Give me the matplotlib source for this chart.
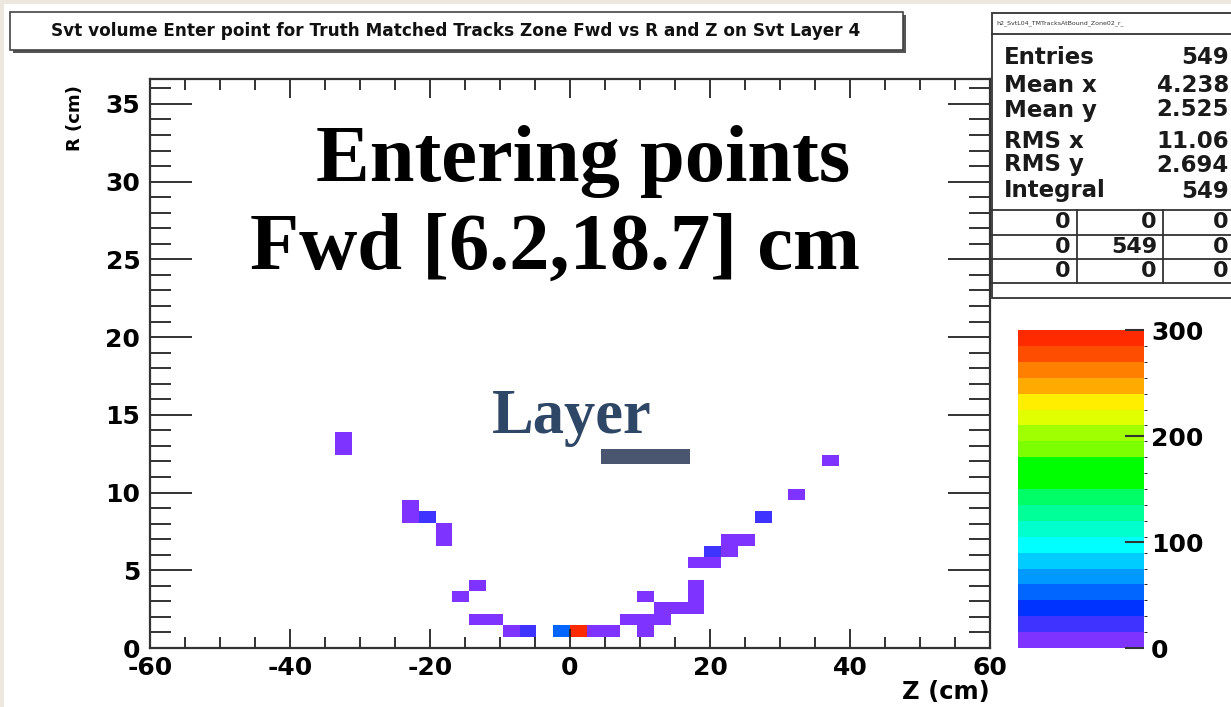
import numpy as np
import matplotlib
matplotlib.use("Agg")
import matplotlib.pyplot as plt
from matplotlib.colors import ListedColormap, BoundaryNorm
from matplotlib.ticker import MultipleLocator
from matplotlib.patches import Rectangle
from matplotlib.lines import Line2D

plt.rcParams['font.family'] = ['DejaVu Sans']
plt.rcParams['font.weight'] = 'bold'
plt.rcParams['axes.unicode_minus'] = False

# filled bins of the entry-point histogram (bin centres in cm, counts)
z_cm = [-32.4, -32.4, -22.8, -22.8, -20.4, -18.0, -18.0, -15.6, -13.2, -13.2,
        -10.8, -8.4, -6.0, -1.2, 1.2, 3.6, 6.0, 8.4, 10.8, 10.8,
        10.8, 13.2, 13.2, 15.6, 18.0, 18.0, 18.0, 18.0, 20.4, 20.4,
        22.8, 22.8, 25.2, 27.6, 32.4, 37.2]
r_cm = [12.81, 13.54, 9.15, 8.42, 8.42, 7.69, 6.95, 3.29, 4.03, 1.83,
        1.83, 1.10, 1.10, 1.10, 1.10, 1.10, 1.10, 1.83, 1.83, 1.10,
        3.29, 2.56, 1.83, 2.56, 2.56, 3.29, 4.03, 5.49, 5.49, 6.22,
        6.22, 6.95, 6.95, 8.42, 9.88, 12.08]
counts = [3, 4, 5, 4, 20, 4, 3, 2, 3, 4,
          5, 7, 24, 55, 296, 9, 7, 5, 5, 3,
          2, 3, 4, 3, 4, 3, 2, 3, 4, 22,
          3, 2, 3, 19, 2, 2]

z_edges = np.linspace(-60, 60, 51)
r_edges = np.linspace(0, 36.6, 51)

stat_names = ['Entries', 'Mean x', 'Mean y', 'RMS x', 'RMS y', 'Integral']
stat_values = ['549', '4.238', '2.525', '11.06', '2.694', '549']
overflow = [['0', '0', '0'], ['0', '549', '0'], ['0', '0', '0']]

palette = ['#7f33ff', '#3f33ff', '#0033ff', '#0066ff', '#0099ff', '#00ccff',
           '#00ffff', '#00ffcc', '#00ff99', '#00ff66', '#00ff00', '#00ff00',
           '#7cff00', '#a0ff00', '#e0ff00', '#ffee00', '#ffaa00', '#ff8000',
           '#ff4d00', '#ff2a00']
levels = np.linspace(0, 300, 21)

W, H = 1231, 707
def fx(x):
    return x / W
def fy(y):
    return 1 - y / H

fig = plt.figure(figsize=(W / 100, H / 100), dpi=100, facecolor='#ece7df')
fig.add_artist(Rectangle((fx(4), 0), 1, fy(4), transform=fig.transFigure,
                         facecolor='white', edgecolor='none', zorder=-5))

cmap = ListedColormap(palette)
norm = BoundaryNorm(levels, cmap.N)

ax = fig.add_axes([fx(150), fy(648), fx(990) - fx(150), fy(79) - fy(648)])
hist, _, _ = np.histogram2d(z_cm, r_cm, bins=[z_edges, r_edges], weights=counts)
mesh = ax.pcolormesh(z_edges, r_edges, np.ma.masked_equal(hist.T, 0),
                     cmap=cmap, norm=norm, antialiased=False, linewidth=0)
ax.set_xlim(-60, 60)
ax.set_ylim(0, 36.6)
ax.xaxis.set_major_locator(MultipleLocator(20))
ax.xaxis.set_minor_locator(MultipleLocator(5))
ax.yaxis.set_major_locator(MultipleLocator(5))
ax.yaxis.set_minor_locator(MultipleLocator(1))
ax.tick_params(which='both', direction='in', top=True, right=True,
               color='#222222', labelsize=18)
ax.tick_params(axis='x', which='major', length=14, width=1.3, pad=6)
ax.tick_params(axis='x', which='minor', length=8, width=1.3)
ax.tick_params(axis='y', which='major', length=30, width=1.3, pad=7)
ax.tick_params(axis='y', which='minor', length=15, width=1.3)
for s in ax.spines.values():
    s.set_linewidth(1.6)
    s.set_color('#333333')

ax.set_xlabel('Z (cm)', loc='right', fontsize=17.5, fontweight='bold')
ax.xaxis.set_label_coords(1.0, -0.056)
ax.set_ylabel('R (cm)', loc='top', fontsize=13, fontweight='bold')
ax.yaxis.set_label_coords(-0.078, 0.99)

# colour scale
cax = fig.add_axes([fx(1018), fy(648), fx(1144) - fx(1018), fy(330) - fy(648)])
cb = fig.colorbar(mesh, cax=cax, ticks=[0, 100, 200, 300])
cb.outline.set_visible(False)
cax.tick_params(direction='in', length=14, width=1.5, color='#333333',
                labelsize=18, pad=5)

# title pave with shadow
fig.add_artist(Rectangle((fx(13), fy(53)), fx(903) - fx(10), fy(12) - fy(50),
                         transform=fig.transFigure, facecolor='#555555',
                         edgecolor='none'))
fig.add_artist(Rectangle((fx(10), fy(50)), fx(903) - fx(10), fy(12) - fy(50),
                         transform=fig.transFigure, facecolor='white',
                         edgecolor='#444444', linewidth=1.2))
fig.text(fx(456), fy(31), 'Svt volume Enter point for Truth Matched Tracks Zone Fwd vs R and Z on Svt Layer 4',
         ha='center', va='center', fontsize=12.2, fontweight='bold', color='#111111')

# statistics box
fig.add_artist(Rectangle((fx(992), fy(298)), fx(1260) - fx(992), fy(13) - fy(298),
                         transform=fig.transFigure, facecolor='white',
                         edgecolor='#333333', linewidth=1.3))
fig.text(fx(996), fy(23), 'h2_SvtL04_TMTracksAtBound_Zone02_r_', ha='left', va='center',
         fontsize=4.5, fontweight='normal', color='#333333')
for y in [34, 210, 235, 259, 283]:
    fig.add_artist(Line2D([fx(992), 1], [fy(y), fy(y)], transform=fig.transFigure,
                          color='#333333', linewidth=1.3))
for x in [1077, 1163]:
    fig.add_artist(Line2D([fx(x), fx(x)], [fy(210), fy(283)], transform=fig.transFigure,
                          color='#333333', linewidth=1.3))
stat_y = [57, 85, 110, 141, 165, 191]
for name, val, y in zip(stat_names, stat_values, stat_y):
    fig.text(fx(1004), fy(y), name, ha='left', va='center', fontsize=16.5,
             fontweight='bold', color='#1a1a1a')
    fig.text(fx(1229), fy(y), val, ha='right', va='center', fontsize=16.5,
             fontweight='bold', color='#1a1a1a')
col_right = [1070, 1157, 1229]
for row, y in zip(overflow, [222, 247, 271]):
    for val, x in zip(row, col_right):
        fig.text(fx(x), fy(y), val, ha='right', va='center', fontsize=16,
                 fontweight='bold', color='#1a1a1a')

# slide annotations
fig.text(fx(583), fy(181), 'Entering points', ha='center', va='baseline',
         fontsize=58, fontweight='bold', family='Liberation Serif', color='black')
fig.text(fx(555), fy(269), 'Fwd [6.2,18.7] cm', ha='center', va='baseline',
         fontsize=58, fontweight='bold', family='Liberation Serif', color='black')
fig.text(fx(492), fy(433), 'Layer', ha='left', va='baseline',
         fontsize=45, fontweight='bold', family='Liberation Serif', color='#2e4766')
fig.add_artist(Rectangle((fx(601), fy(464)), fx(690) - fx(601), fy(449) - fy(464),
                         transform=fig.transFigure, facecolor='#4a5570',
                         edgecolor='none'))

fig.savefig('out.png', dpi=100, facecolor=fig.get_facecolor())
